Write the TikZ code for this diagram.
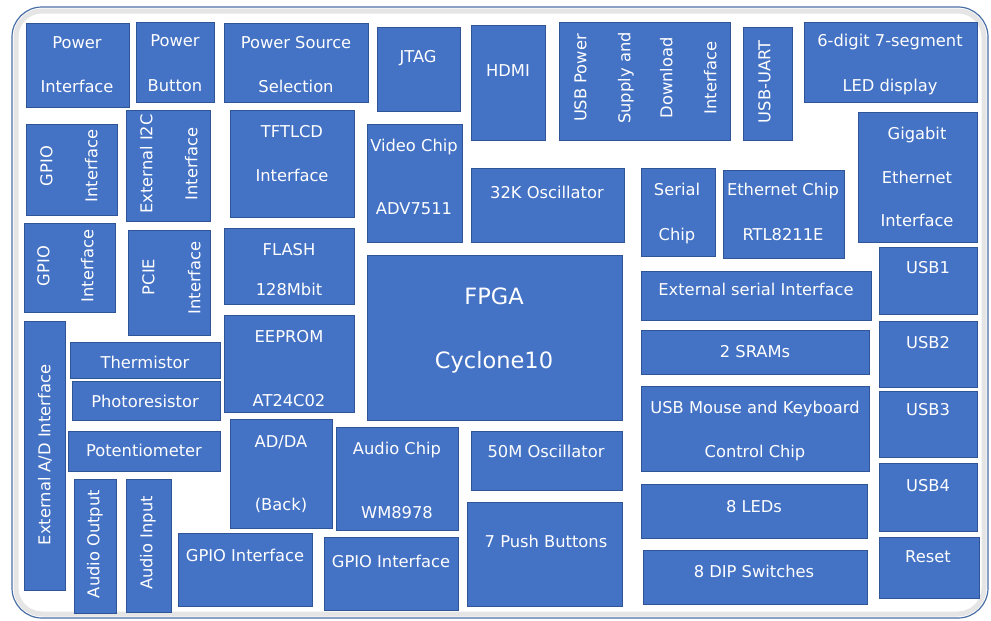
\documentclass[tikz,border=0pt]{standalone}
\usepackage{fontspec}
\setmainfont{DejaVu Sans}
\definecolor{boxfill}{HTML}{4472C4}
\definecolor{boxline}{HTML}{2F5597}
\definecolor{frameline}{HTML}{4A6FA5}
\newcommand\blk[5]{\node[blk, minimum width={(#4-#2)*1pt}, minimum height={(#5-#3)*1pt}] (#1) at ({(#2+#4)/2},{(#3+#5)/2}) {};}
\newcommand\lb[4]{\node[lbl] (#1) at (#2,#3) {#4};}
\newcommand\lbr[4]{\node[lbl, rotate=90] (#1) at (#2,#3) {#4};}
\begin{document}
\begin{tikzpicture}[x=1pt,y=-1pt,
  blk/.style={draw=boxline, fill=boxfill, line width=0.8pt, inner sep=0pt, outer sep=0pt},
  lbl/.style={text=white, font=\fontsize{16.3}{19}\selectfont, inner sep=0pt, text height=11.5pt, text depth=3pt},
  big/.style={text=white, font=\fontsize{22.5}{26}\selectfont, inner sep=0pt, text height=16pt, text depth=4pt}]
\useasboundingbox (0,0) rectangle (991,621);
% outer frame
\draw[line width=5pt, black!10, rounded corners=26pt] (16,11) rectangle (984,614);
\draw[frameline, line width=1.2pt, rounded corners=30pt] (12,7) rectangle (988,618);

% top row
\blk{pwrif}{26}{23}{129}{107}
\lb{pwrif1}{77}{44}{Power}\lb{pwrif2}{77}{88}{Interface}
\blk{pwrbtn}{136}{22}{214}{102}
\lb{pwrbtn1}{175}{42}{Power}\lb{pwrbtn2}{175}{87}{Button}
\blk{pwrsrc}{224}{23}{368}{102}
\lb{pwrsrc1}{296}{44}{Power Source}\lb{pwrsrc2}{296}{88}{Selection}
\blk{jtag}{377}{27}{460}{111}
\lb{jtag1}{418}{58}{JTAG}
\blk{hdmi}{471}{25}{545}{140}
\lb{hdmi1}{508}{72}{HDMI}
\blk{usbpwr}{559}{22}{730}{140}
\lbr{usbpwr1}{582}{78}{USB Power}\lbr{usbpwr2}{626}{78}{Supply and}
\lbr{usbpwr3}{668}{78}{Download}\lbr{usbpwr4}{712}{78}{Interface}
\blk{uart}{743}{27}{792}{140}
\lbr{uart1}{766}{82}{USB-UART}
\blk{seg}{804}{22}{977}{102}
\lb{seg1}{890}{42}{6-digit 7-segment}\lb{seg2}{890}{87}{LED display}

% second band
\blk{gpio1}{26}{124}{117}{215}
\lbr{gpio1a}{48}{166}{GPIO}\lbr{gpio1b}{93}{166}{Interface}
\blk{i2c}{126}{110}{210}{221}
\lbr{i2ca}{148}{164}{External I2C}\lbr{i2cb}{193}{164}{Interface}
\blk{tft}{230}{110}{354}{217}
\lb{tft1}{292}{133}{TFTLCD}\lb{tft2}{292}{177}{Interface}
\blk{video}{367}{124}{462}{242}
\lb{video1}{414}{147}{Video Chip}\lb{video2}{414}{210}{ADV7511}
\blk{osc32}{471}{168}{624}{242}
\lb{osc32a}{547}{194}{32K Oscillator}
\blk{serial}{641}{168}{715}{256}
\lb{serial1}{677}{191}{Serial}\lb{serial2}{677}{236}{Chip}
\blk{eth}{723}{170}{844}{258}
\lb{eth1}{783}{191}{Ethernet Chip}\lb{eth2}{783}{236}{RTL8211E}
\blk{gige}{858}{112}{977}{242}
\lb{gige1}{917}{135}{Gigabit}\lb{gige2}{917}{179}{Ethernet}\lb{gige3}{917}{222}{Interface}

% left column
\blk{gpio2}{24}{223}{115}{312}
\lbr{gpio2a}{45}{266}{GPIO}\lbr{gpio2b}{89}{266}{Interface}
\blk{pcie}{128}{230}{210}{335}
\lbr{pciea}{150}{277}{PCIE}\lbr{pcieb}{196}{278}{Interface}
\blk{flash}{224}{228}{354}{304}
\lb{flash1}{289}{251}{FLASH}\lb{flash2}{289}{291}{128Mbit}
\blk{eeprom}{224}{315}{354}{412}
\lb{eeprom1}{289}{338}{EEPROM}\lb{eeprom2}{289}{402}{AT24C02}
\blk{adif}{24}{321}{65}{590}
\lbr{adif1}{46}{455}{External A/D Interface}
\blk{therm}{70}{342}{220}{378}
\lb{therm1}{145}{364}{Thermistor}
\blk{photo}{72}{381}{220}{420}
\lb{photo1}{145}{403}{Photoresistor}
\blk{pot}{68}{431}{220}{471}
\lb{pot1}{144}{452}{Potentiometer}
\blk{aout}{74}{479}{116}{613}
\lbr{aout1}{95}{544}{Audio Output}
\blk{ain}{126}{479}{171}{612}
\lbr{ain1}{148}{543}{Audio Input}
\blk{adda}{230}{419}{332}{528}
\lb{adda1}{281}{443}{AD/DA}\lb{adda2}{281}{506}{(Back)}
\blk{gpio3}{178}{533}{312}{606}
\lb{gpio3a}{245}{557}{GPIO Interface}
\blk{audio}{336}{427}{458}{530}
\lb{audio1}{397}{450}{Audio Chip}\lb{audio2}{397}{514}{WM8978}
\blk{gpio4}{324}{537}{458}{610}
\lb{gpio4a}{391}{563}{GPIO Interface}

% centre
\blk{fpga}{367}{255}{622}{420}
\node[big] (fpga1) at (494,298) {FPGA};
\node[big] (fpga2) at (494,362) {Cyclone10};
\blk{osc50}{471}{431}{622}{490}
\lb{osc50a}{546}{453}{50M Oscillator}
\blk{push}{467}{502}{622}{606}
\lb{push1}{546}{543}{7 Push Buttons}

% right side
\blk{extser}{641}{271}{871}{320}
\lb{extser1}{756}{291}{External serial Interface}
\blk{sram}{641}{330}{869}{374}
\lb{sram1}{755}{353}{2 SRAMs}
\blk{usbmk}{641}{386}{869}{471}
\lb{usbmk1}{755}{409}{USB Mouse and Keyboard}\lb{usbmk2}{755}{453}{Control Chip}
\blk{leds}{641}{484}{867}{538}
\lb{leds1}{754}{508}{8 LEDs}
\blk{dip}{643}{550}{867}{604}
\lb{dip1}{754}{573}{8 DIP Switches}
\blk{usb1}{879}{247}{977}{314}
\lb{usb1a}{928}{269}{USB1}
\blk{usb2}{879}{321}{977}{387}
\lb{usb2a}{928}{344}{USB2}
\blk{usb3}{879}{391}{977}{457}
\lb{usb3a}{928}{411}{USB3}
\blk{usb4}{879}{463}{977}{531}
\lb{usb4a}{928}{487}{USB4}
\blk{reset}{879}{537}{979}{598}
\lb{reset1}{928}{558}{Reset}
\end{tikzpicture}
\end{document}
